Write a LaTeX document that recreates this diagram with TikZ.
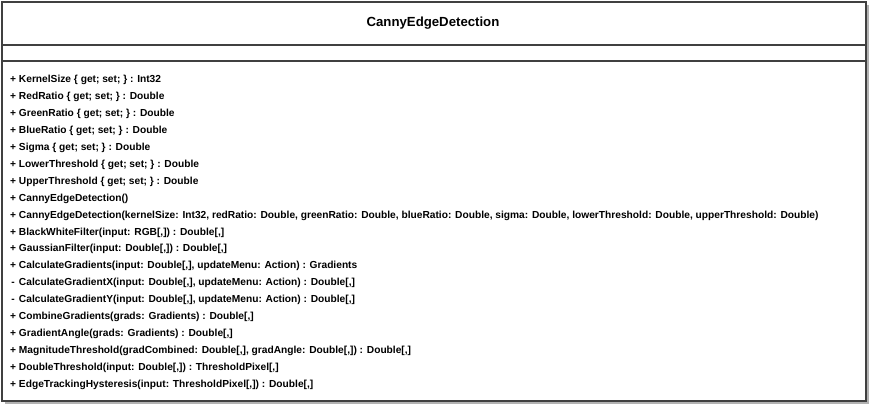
\documentclass[tikz,border=0pt]{standalone}
\usepackage{fontspec}
\setmainfont{Liberation Sans}
\usetikzlibrary{positioning}
\usetikzlibrary{shadows}
\definecolor{umlborder}{RGB}{64,64,64}
\definecolor{umlshadow}{RGB}{178,178,178}
\newcommand{\umlpriv}{\makebox[\fontcharwd\font`+]{-}}

\begin{document}
\begin{tikzpicture}[x=1pt, y=-1pt, every node/.style={align=left, font=\bfseries}]

        \useasboundingbox (0,0) rectangle (870,405);

        % Class box
        \node[draw=umlborder, line width=1.4pt, fill=white, minimum width=864pt, minimum height=399pt, anchor=north west,
              drop shadow={shadow xshift=3.5pt, shadow yshift=-3.5pt, fill=umlshadow, opacity=1}] (cannyBox) at (1.2,1.2) {};

        % Title
        \node[font=\bfseries\fontsize{13.2}{15}\selectfont] (cannyTitle) at (433,23.5) {CannyEdgeDetection};

        % Compartments
        \coordinate (attrTop) at (0,45);
        \coordinate (attrBottom) at (0,61);
        \draw[umlborder, line width=1.4pt] (cannyBox.west |- attrTop) -- (cannyBox.east |- attrTop);
        \draw[umlborder, line width=1.4pt] (cannyBox.west |- attrBottom) -- (cannyBox.east |- attrBottom);

        % Members
        \node[anchor=north west, inner sep=0pt, font=\bfseries\fontsize{10.2}{16.94}\selectfont] (cannyMembers) at (10,75) {%
            + KernelSize \{ get; set; \} : Int32 \\
            + RedRatio \{ get; set; \} : Double \\
            + GreenRatio \{ get; set; \} : Double \\
            + BlueRatio \{ get; set; \} : Double \\
            + Sigma \{ get; set; \} : Double \\
            + LowerThreshold \{ get; set; \} : Double \\
            + UpperThreshold \{ get; set; \} : Double \\
            + CannyEdgeDetection() \\
            + CannyEdgeDetection(kernelSize: Int32, redRatio: Double, greenRatio: Double, blueRatio: Double, sigma: Double, lowerThreshold: Double, upperThreshold: Double) \\
            + BlackWhiteFilter(input: RGB[,]) : Double[,] \\
            + GaussianFilter(input: Double[,]) : Double[,] \\
            + CalculateGradients(input: Double[,], updateMenu: Action) : Gradients \\
            \umlpriv{} CalculateGradientX(input: Double[,], updateMenu: Action) : Double[,] \\
            \umlpriv{} CalculateGradientY(input: Double[,], updateMenu: Action) : Double[,] \\
            + CombineGradients(grads: Gradients) : Double[,] \\
            + GradientAngle(grads: Gradients) : Double[,] \\
            + MagnitudeThreshold(gradCombined: Double[,], gradAngle: Double[,]) : Double[,] \\
            + DoubleThreshold(input: Double[,]) : ThresholdPixel[,] \\
            + EdgeTrackingHysteresis(input: ThresholdPixel[,]) : Double[,]
        };

    \end{tikzpicture}
\end{document}
